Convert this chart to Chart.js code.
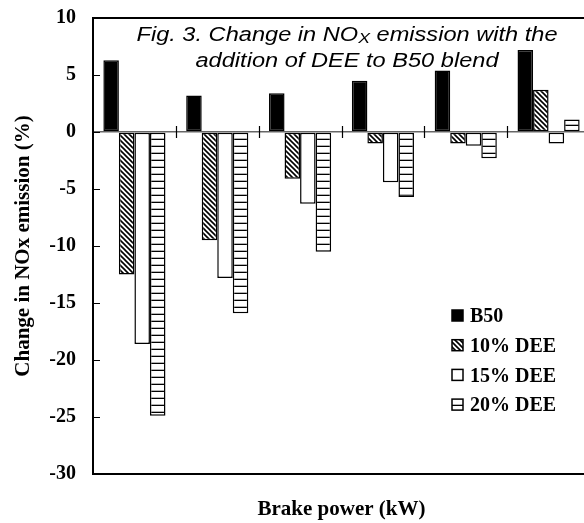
<!DOCTYPE html>
<html>
<head>
<meta charset="utf-8">
<script src="https://cdn.jsdelivr.net/npm/chart.js@4/dist/chart.umd.min.js"></script>
<style>
  html, body { margin: 0; padding: 0; background: #fff; overflow: hidden; }
  #wrap { width: 592px; height: 523px; }
</style>
</head>
<body>
<div id="wrap"><canvas id="nox-chart" width="592" height="523"></canvas></div>
<script>
// Load steps along the brake power axis (drawn without numbers)
const loadSteps = ['1', '2', '3', '4', '5', '6'];

// Change in NOx emission (%) for each fuel
const b50   = [6.3, 3.2, 3.4, 4.5, 5.4, 7.2];
const dee10 = [-12.5, -9.5, -4.1, -1.0, -1.0, 3.7];
const dee15 = [-18.6, -12.8, -6.3, -4.4, -1.2, -1.0];
const dee20 = [-24.9, -15.9, -10.5, -5.7, -2.3, 1.1];

const seriesLabels = ['B50', '10% DEE', '15% DEE', '20% DEE'];
const yTicks = [-30, -25, -20, -15, -10, -5, 0, 5, 10];

const SERIF = "'Liberation Serif', 'Times New Roman', serif";
const SANS = "'Liberation Sans', Arial, sans-serif";

const canvas = document.getElementById('nox-chart');
const ctx = canvas.getContext('2d');

function makePattern(kind) {
  const size = kind === 'diag' ? 5 : 7;
  const c = document.createElement('canvas');
  c.width = size;
  c.height = size;
  const g = c.getContext('2d');
  g.fillStyle = '#fff';
  g.fillRect(0, 0, size, size);
  if (kind === 'diag') {
    g.strokeStyle = '#000';
    g.lineWidth = 1.6;
    g.beginPath();
    g.moveTo(-1, -1); g.lineTo(size + 1, size + 1);
    g.moveTo(size - 1, -1); g.lineTo(size + 1, 1);
    g.moveTo(-1, size - 1); g.lineTo(1, size + 1);
    g.stroke();
  } else {
    g.fillStyle = '#000';
    g.fillRect(0, size - 1.3, size, 1.3);
  }
  return ctx.createPattern(c, 'repeat');
}

const fills = ['#000', makePattern('diag'), '#fff', makePattern('stripes')];
const values = [b50, dee10, dee15, dee20];

const datasets = values.map((data, i) => ({
  label: seriesLabels[i],
  data,
  backgroundColor: fills[i],
  borderColor: '#000',
  borderWidth: 1.5,
  borderSkipped: false,
  categoryPercentage: 0.75,
  barPercentage: 1,
}));

// top border, inward y ticks, and category ticks across the zero line
const framePlugin = {
  id: 'frame',
  afterDatasetsDraw(chart) {
    const { ctx, chartArea: a, scales: { x, y } } = chart;
    ctx.save();
    ctx.strokeStyle = '#000';
    ctx.lineWidth = 2;
    ctx.beginPath();
    ctx.moveTo(a.left - 1, a.top);
    ctx.lineTo(a.right, a.top);
    ctx.stroke();

    ctx.lineWidth = 1.2;
    ctx.beginPath();
    yTicks.forEach(v => {
      const py = Math.round(y.getPixelForValue(v)) + 0.5;
      ctx.moveTo(a.left, py);
      ctx.lineTo(a.left + 7, py);
    });
    const zero = y.getPixelForValue(0);
    for (let i = 0; i < loadSteps.length - 1; i++) {
      const px = Math.round((x.getPixelForValue(i) + x.getPixelForValue(i + 1)) / 2) + 0.5;
      ctx.moveTo(px, zero - 6);
      ctx.lineTo(px, zero + 6);
    }
    ctx.stroke();
    ctx.restore();
  }
};

// legend inside the plot, lower right
const legendPlugin = {
  id: 'insideLegend',
  afterDraw(chart) {
    const { ctx } = chart;
    ctx.save();
    ctx.font = `bold 20px ${SERIF}`;
    ctx.textBaseline = 'middle';
    ctx.fillStyle = '#000';
    chart.data.datasets.forEach((ds, i) => {
      const cy = 316 + i * 29.7;
      ctx.fillStyle = ds.backgroundColor;
      ctx.fillRect(452, cy - 6, 11, 11);
      ctx.strokeStyle = '#000';
      ctx.lineWidth = 1.5;
      ctx.strokeRect(452, cy - 6, 11, 11);
      ctx.fillStyle = '#000';
      ctx.fillText(ds.label, 470, cy + 1);
    });
    ctx.restore();
  }
};

// figure caption written over the plot, with NOx subscript
const captionPlugin = {
  id: 'caption',
  afterDraw(chart) {
    const { ctx } = chart;
    const lines = [
      [['Fig. 3. Change in NO', 20, 0], ['X', 15, 2], [' emission with the', 20, 0]],
      [['addition of DEE to B50 blend', 20, 0]],
    ];
    const baselines = [40.5, 66.5];
    const sx = 1.18;
    ctx.save();
    ctx.fillStyle = '#000';
    ctx.textBaseline = 'alphabetic';
    ctx.textAlign = 'left';
    lines.forEach((parts, li) => {
      let total = 0;
      parts.forEach(([t, size]) => {
        ctx.font = `italic ${size}px ${SANS}`;
        total += ctx.measureText(t).width;
      });
      ctx.save();
      ctx.translate(347, baselines[li]);
      ctx.scale(sx, 1);
      let px = -total / 2;
      parts.forEach(([t, size, dy]) => {
        ctx.font = `italic ${size}px ${SANS}`;
        ctx.fillText(t, px, dy);
        px += ctx.measureText(t).width;
      });
      ctx.restore();
    });
    ctx.restore();
  }
};

new Chart(ctx, {
  type: 'bar',
  data: { labels: loadSteps, datasets },
  options: {
    responsive: false,
    animation: false,
    layout: { padding: { top: 17, left: 4, right: 2, bottom: 0 } },
    plugins: {
      legend: { display: false },
      tooltip: { enabled: false },
    },
    scales: {
      x: {
        grid: { display: false },
        border: { color: '#000', width: 2 },
        ticks: { display: false },
        title: {
          display: true,
          text: 'Brake power (kW)',
          color: '#000',
          font: { family: SERIF, weight: 'bold', size: 21 },
          padding: { top: 4, bottom: 1 },
        },
        afterFit: s => { s.height = 49; },
      },
      y: {
        min: -30,
        max: 10,
        afterBuildTicks: s => { s.ticks = yTicks.map(v => ({ value: v })); },
        grid: {
          drawTicks: true,
          tickLength: 11,
          tickColor: 'rgba(0,0,0,0)',
          lineWidth: 1.5,
          color: c => (c.tick && c.tick.value === 0 ? '#666' : 'rgba(0,0,0,0)'),
        },
        border: { color: '#000', width: 2 },
        ticks: {
          color: '#000',
          padding: 6,
          font: { family: SERIF, weight: 'bold', size: 20 },
        },
        title: {
          display: true,
          text: 'Change in NOx emission (%)',
          color: '#000',
          font: { family: SERIF, weight: 'bold', size: 21 },
          padding: { top: 7, bottom: 0 },
        },
        afterFit: s => { s.width = 89; },
      },
    },
  },
  plugins: [framePlugin, legendPlugin, captionPlugin],
});
</script>
</body>
</html>
